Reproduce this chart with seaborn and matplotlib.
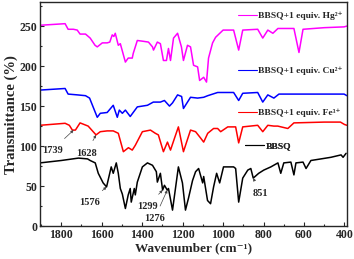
import numpy as np
import pandas as pd
import matplotlib
matplotlib.use('Agg')
import matplotlib.pyplot as plt
from matplotlib.lines import Line2D
import seaborn as sns

sns.set_style('ticks')
plt.rcParams['font.family'] = ['Liberation Serif', 'DejaVu Serif']
plt.rcParams['font.weight'] = 'bold'

# IR spectra (wavenumber cm-1, transmittance %)
hg_wn = [1905, 1781, 1766, 1740, 1721, 1707, 1680, 1657, 1633, 1622, 1597, 1573, 1560, 1548,
         1540, 1533, 1518, 1508, 1483, 1469, 1449, 1444, 1424, 1395, 1369, 1349, 1344, 1325,
         1310, 1295, 1280, 1270, 1260, 1245, 1225, 1206, 1196, 1176, 1161, 1146, 1126, 1116,
         1096, 1082, 1072, 1052, 1037, 1000, 948, 923, 903, 829, 804, 779, 754, 729, 650,
         625, 605, 500, 402, 388]
hg_t = [251, 253, 246, 246, 245, 240, 240, 235, 226, 224, 229, 229, 230, 239,
        237, 241, 226, 228, 205, 210, 210, 216, 232, 231, 230, 224, 220, 230,
        228, 207, 207, 222, 207, 235, 241, 224, 207, 226, 224, 201, 199, 182,
        186, 180, 210, 229, 236, 245, 245, 220, 245, 246, 235, 245, 241, 247, 247,
        217, 246, 248, 249, 250]

cu_wn = [1905, 1781, 1766, 1720, 1680, 1660, 1622, 1607, 1573, 1543, 1523, 1513, 1498, 1483,
         1459, 1424, 1374, 1345, 1310, 1290, 1265, 1250, 1225, 1205, 1196, 1161, 1126, 1096,
         1076, 1027, 948, 923, 903, 829, 804, 779, 749, 724, 500, 402, 388]
cu_t = [170, 172, 165, 164, 163, 160, 136, 141, 142, 151, 136, 145, 141, 145,
        137, 149, 151, 155, 155, 157, 150, 154, 164, 162, 147, 161, 160, 161,
        163, 167, 167, 157, 166, 167, 155, 164, 160, 165, 165, 165, 163]

fe_wn = [1905, 1781, 1760, 1745, 1730, 1707, 1667, 1628, 1607, 1573, 1543, 1518, 1493, 1468,
         1449, 1434, 1399, 1359, 1335, 1320, 1295, 1275, 1260, 1240, 1221, 1196, 1161, 1136,
         1111, 1096, 1076, 1047, 1027, 1012, 977, 938, 923, 903, 829, 804, 779, 749, 730,
         680, 650, 500, 420, 400, 388]
fe_t = [126, 128.5, 126, 120, 120, 129, 125, 114, 118, 119, 119, 116, 93, 98,
        95, 101, 118, 120, 116, 114, 93, 105, 95, 110, 124, 93, 120, 118,
        110, 105, 116, 122, 122, 118, 124, 124, 104, 124, 126, 118, 126, 125, 125,
        122, 129, 130, 130, 127, 126]

bbsq_wn = [1905, 1800, 1715, 1670, 1657, 1632, 1617, 1593, 1576, 1553, 1543, 1528, 1518, 1508,
           1498, 1483, 1469, 1459, 1454, 1439, 1434, 1424, 1399, 1374, 1349, 1330, 1325, 1310,
           1299, 1290, 1276, 1270, 1250, 1221, 1201, 1186, 1171, 1151, 1136, 1121, 1101, 1096,
           1077, 1062, 1047, 1032, 1017, 998, 948, 938, 923, 903, 878, 863, 851, 824, 799, 764,
           729, 715, 700, 665, 650, 640, 605, 590, 566, 516, 467, 417, 407, 392]
bbsq_t = [79, 82, 85, 84, 82, 79, 66, 54, 49, 74, 66, 79, 66, 47,
          40, 22, 39, 47, 30, 47, 39, 55, 74, 79, 76, 68, 55, 66,
          45, 51, 45, 47, 20, 74, 54, 20, 35, 57, 68, 72, 54, 62,
          32, 28, 49, 66, 54, 74, 74, 72, 30, 60, 70, 72, 60, 66, 70, 74,
          79, 66, 79, 80, 64, 79, 80, 72, 82, 84, 86, 89, 86, 91]

series = [
    ('BBSQ+1 equiv. Hg²⁺', hg_wn, hg_t, '#ff00ff'),
    ('BBSQ+1 equiv. Cu²⁺', cu_wn, cu_t, '#0000ff'),
    ('BBSQ+1 equiv. Fe³⁺', fe_wn, fe_t, '#ff0000'),
    ('BBSQ', bbsq_wn, bbsq_t, '#000000'),
]

# peak labels: (wavenumber, series index, text x, text y)
peaks = [(1739, 2, 1845, 95), (1628, 2, 1677, 91), (1576, 3, 1662, 30),
         (1299, 3, 1374, 25), (1276, 3, 1340, 9), (851, 3, 814, 41)]

fig = plt.figure(figsize=(3.54, 2.59), dpi=100)
ax = fig.add_axes([0.113, 0.127, 0.867, 0.865])

for name, wn, t, c in series:
    df = pd.DataFrame({'wn': wn, 't': t})
    sns.lineplot(data=df, x='wn', y='t', color=c, lw=1.1, ax=ax, sort=False)

# separate legend entries next to each curve
leg_pos = [(0.645, 0.937), (0.645, 0.692), (0.645, 0.504), (0.668, 0.357)]
for (name, wn, t, c), (lx, ly) in zip(series, leg_pos):
    h = Line2D([], [], color=c, lw=0.8)
    lg = ax.legend([h], [name], loc='center left', bbox_to_anchor=(lx, ly),
                   frameon=False, fontsize=6.8, handlelength=2.0, handletextpad=0.15,
                   borderpad=0, borderaxespad=0)
    for txt in lg.get_texts():
        txt.set_fontweight('bold')
    ax.add_artist(lg)

for wn0, si, tx, ty in peaks:
    wn, t = series[si][1], series[si][2]
    yv = np.interp(wn0, wn[::-1], t[::-1])
    ax.annotate(str(wn0), xy=(wn0, yv), xytext=(tx, ty), ha='center', va='center',
                fontsize=7.5, fontweight='bold',
                arrowprops=dict(arrowstyle='-|>', color='#444444', lw=0.5,
                                mutation_scale=4, shrinkA=4, shrinkB=0))

ax.set_xlim(1905, 388)
ax.set_ylim(0, 280)
ax.set_xticks([1800, 1600, 1400, 1200, 1000, 800, 600, 400])
ax.set_yticks([0, 50, 100, 150, 200, 250])
ax.xaxis.set_minor_locator(matplotlib.ticker.MultipleLocator(100))
ax.yaxis.set_minor_locator(matplotlib.ticker.MultipleLocator(25))
ax.tick_params(which='both', direction='in', labelsize=8.5, width=0.8, pad=2)
ax.tick_params(which='major', length=3)
ax.tick_params(which='minor', length=1.5)
for lab in ax.get_xticklabels() + ax.get_yticklabels():
    lab.set_fontweight('bold')
for s in ax.spines.values():
    s.set_linewidth(1.0)
ax.set_xlabel('Wavenumber (cm⁻¹)', fontsize=9.5, fontweight='bold', labelpad=1)
ax.set_ylabel('Transmittance (%)', fontsize=10.5, fontweight='bold', labelpad=1)

fig.savefig('out.png', dpi=100)
